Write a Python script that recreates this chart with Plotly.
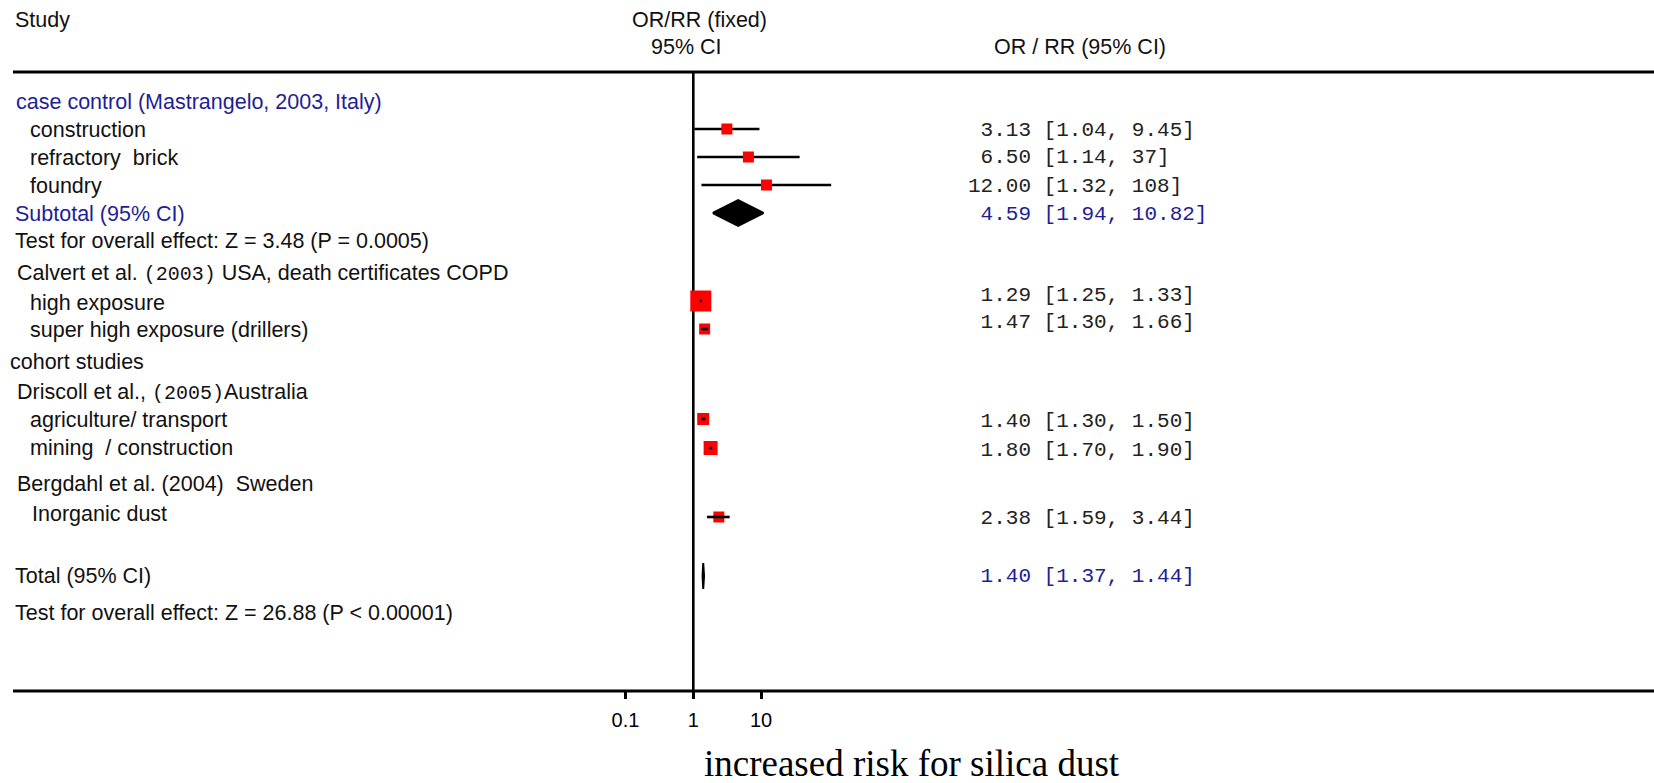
import numpy as np
import plotly.graph_objects as go

# ---------------- data ----------------
study_labels = ["construction", "refractory\u00a0\u00a0brick", "foundry",
                "high exposure", "super high exposure (drillers)",
                "agriculture/ transport", "mining\u00a0\u00a0/ construction",
                "Inorganic dust"]
estimates = [3.13, 6.50, 12.00, 1.29, 1.47, 1.40, 1.80, 2.38]
ci_low = [1.04, 1.14, 1.32, 1.25, 1.30, 1.30, 1.70, 1.59]
ci_high = [9.45, 37, 108, 1.33, 1.66, 1.50, 1.90, 3.44]

pooled_labels = ["Subtotal (95% CI)", "Total (95% CI)"]
pooled_est = [4.59, 1.40]
pooled_low = [1.94, 1.37]
pooled_high = [10.82, 1.44]

group_labels = ["case control (Mastrangelo, 2003, Italy)",
                "Calvert et al. (2003) USA, death certificates COPD",
                "cohort studies",
                "Driscoll et al., (2005)Australia",
                "Bergdahl et al. (2004)\u00a0\u00a0Sweden"]
test_labels = ["Test for overall effect: Z = 3.48 (P = 0.0005)",
               "Test for overall effect: Z = 26.88 (P < 0.00001)"]

tick_values = [0.1, 1, 10]
tick_labels = ["0.1", "1", "10"]
header_study = "Study"
header_plot = ["OR/RR (fixed)", "95% CI"]
header_values = "OR / RR (95% CI)"
x_title = "increased risk for silica dust"

# ---------------- layout / style ----------------
W, H = 1654, 783
SANS = "Liberation Sans, Arial, sans-serif"
MONO = "Liberation Mono, Courier New, monospace"
SERIF = "Liberation Serif, Times New Roman, serif"
BLUE = "#1E1E96"
TXT = "#111111"
FS = 21.5

x_one_px = 693.3          # pixel position of the value 1
px_per_decade = 67.8
axis_y = 691
top_y = 72

marker_y = [129, 157, 185, 301, 329, 419, 448, 517]
value_y = [130, 157, 186, 295, 322, 421, 450, 518]
marker_size = [11, 11, 11, 21, 11, 12, 14, 11]
ci_on_top = [False, False, False, True, True, True, True, True]
label_x = [28, 28, 28, 28, 28, 28, 28, 30]
label_y = [130, 158, 186, 303, 330, 420, 448, 514]

pooled_y = [213, 576]
pooled_value_y = [214, 576]
pooled_label_y = [214, 576]
pooled_color = [BLUE, TXT]
pooled_value_color = [BLUE, BLUE]
diamond_half_h = 13

group_x = [14, 15, 8, 15, 15]
group_y = [102, 273, 362, 392, 484]
group_color = [BLUE, TXT, TXT, TXT, TXT]
test_y = [241, 613]
value_x = 966

fig = go.Figure()

# reference line at 1
fig.add_trace(go.Scatter(x=[1, 1], y=[top_y, axis_y], mode="lines",
                         line=dict(color="black", width=2.6),
                         hoverinfo="skip", showlegend=False))


def ci_segments(mask):
    xs, ys = [], []
    for lo, hi, y, m in zip(ci_low, ci_high, marker_y, mask):
        if m:
            xs += [lo, hi, None]
            ys += [y, y, None]
    return xs, ys


# CI lines underneath the boxes
xs, ys = ci_segments([not c for c in ci_on_top])
fig.add_trace(go.Scatter(x=xs, y=ys, mode="lines",
                         line=dict(color="black", width=2.6),
                         hoverinfo="skip", showlegend=False))

# boxes
fig.add_trace(go.Scatter(x=estimates, y=marker_y, mode="markers",
                         marker=dict(symbol="square", size=marker_size,
                                     color="#FF0000", opacity=1,
                                     line=dict(width=0)),
                         hoverinfo="skip", showlegend=False))

# CI lines on top of the boxes
xs, ys = ci_segments(ci_on_top)
fig.add_trace(go.Scatter(x=xs, y=ys, mode="lines",
                         line=dict(color="black", width=2.6),
                         hoverinfo="skip", showlegend=False))

# pooled diamonds
for est, lo, hi, y in zip(pooled_est, pooled_low, pooled_high, pooled_y):
    fig.add_trace(go.Scatter(
        x=[lo, est, hi, est, lo],
        y=[y, y - diamond_half_h, y, y + diamond_half_h, y],
        mode="lines", fill="toself", fillcolor="black",
        line=dict(color="black", width=2),
        hoverinfo="skip", showlegend=False))


def fmt(v):
    return f"{v:.0f}" if v >= 20 else f"{v:.2f}"


def value_text(e, lo, hi):
    return (f"{fmt(e):>5}".replace(" ", "\u00a0") + "\u00a0[" + fmt(lo)
            + ",\u00a0" + fmt(hi) + "]")


annotations = []


def add_text(text, x, y, size=FS, color=TXT, family=SANS, anchor="left"):
    annotations.append(dict(text=text, x=x / W, y=y, xref="paper", yref="y",
                            xanchor=anchor, yanchor="middle", showarrow=False,
                            font=dict(family=family, size=size, color=color)))


# headers
add_text(header_study, 13, 20)
add_text(header_plot[0], 699, 20, anchor="center")
add_text(header_plot[1], 686, 47, anchor="center")
add_text(header_values, 1080, 47, anchor="center")

# group headings
mono_span = '<span style="font-family:Liberation Mono, monospace;font-size:20px">{}</span>'
for i, (t, x, y, c) in enumerate(zip(group_labels, group_x, group_y, group_color)):
    if i == 1:
        t = t.replace("(2003)", mono_span.format("(2003)"))
    if i == 3:
        t = t.replace("(2005)", mono_span.format("(2005)"))
    add_text(t, x, y, color=c)

# study rows
for lab, x, y in zip(study_labels, label_x, label_y):
    add_text(lab, x, y)
for e, lo, hi, y in zip(estimates, ci_low, ci_high, value_y):
    add_text(value_text(e, lo, hi), value_x, y, size=21, family=MONO, color="#222222")

# pooled rows
for lab, y, c in zip(pooled_labels, pooled_label_y, pooled_color):
    add_text(lab, 13, y, color=c)
for e, lo, hi, y, c in zip(pooled_est, pooled_low, pooled_high,
                           pooled_value_y, pooled_value_color):
    add_text(value_text(e, lo, hi), value_x, y, size=21, family=MONO, color=c)

# tests
for t, y in zip(test_labels, test_y):
    add_text(t, 13, y)

# x title
add_text(x_title, 912, 763, size=37, family=SERIF, color="black", anchor="center")

x_lo = (0 - x_one_px) / px_per_decade
x_hi = (W - x_one_px) / px_per_decade

fig.update_layout(
    width=W, height=H,
    margin=dict(l=0, r=0, t=0, b=0),
    paper_bgcolor="white", plot_bgcolor="white",
    showlegend=False,
    annotations=annotations,
    shapes=[
        dict(type="line", xref="paper", yref="y", x0=13 / W, x1=1,
             y0=top_y, y1=top_y, line=dict(color="black", width=3)),
        dict(type="line", xref="paper", yref="y", x0=13 / W, x1=1,
             y0=axis_y, y1=axis_y, line=dict(color="black", width=3)),
    ],
    xaxis=dict(type="log", range=[x_lo, x_hi], domain=[0, 1],
               anchor="free", position=(H - axis_y) / H,
               tickvals=tick_values, ticktext=tick_labels,
               ticks="outside", ticklen=7, tickwidth=2.5, tickcolor="black",
               ticklabelstandoff=4,
               tickfont=dict(family=SANS, size=20, color="black"),
               showline=False, showgrid=False, zeroline=False),
    yaxis=dict(range=[H, 0], domain=[0, 1], visible=False,
               showgrid=False, zeroline=False),
)

fig.write_html("out.html")
